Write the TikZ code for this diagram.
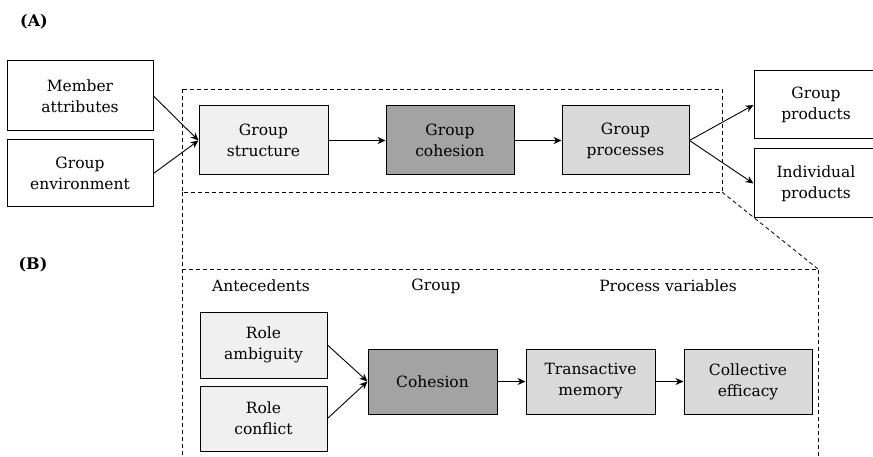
\documentclass[tikz,border=0pt]{standalone}
\usepackage{fontspec}
\setmainfont{DejaVu Serif}
\usetikzlibrary{arrows.meta}
\begin{document}
\begin{tikzpicture}[x=1pt,y=-1pt]
	\tikzset{>={Stealth[length=8pt,width=7pt]}}
	\tikzset{box/.style={draw,line width=1pt,align=center,inner sep=0pt,
		font=\fontsize{15.5}{21}\selectfont},
		white box/.style={box,fill=white},
		pale box/.style={box,fill=black!6},
		mid box/.style={box,fill=black!15},
		dark box/.style={box,fill=black!36},
		zoom line/.style={line width=0.8pt,dash pattern=on 4pt off 3pt},
		link/.style={->,line width=0.9pt}}

	\useasboundingbox (0,0) rectangle (873,457);

	% (A)
	\node[font=\bfseries\fontsize{16}{19}\selectfont] (labelA) at (34,22) {(A)};

	\draw[zoom line] (182,89) rectangle (722,192);

	\node[white box,minimum width=146pt,minimum height=70pt] (member) at (80,96) {Member\\attributes};
	\node[white box,minimum width=146pt,minimum height=67pt] (environment) at (80,173.5) {Group\\environment};

	\node[pale box,minimum width=129pt,minimum height=69pt] (structure) at (263.5,140.5) {Group\\structure};
	\node[dark box,minimum width=128pt,minimum height=69pt] (cohesion) at (450,140.5) {Group\\cohesion};
	\node[mid box,minimum width=127pt,minimum height=69pt] (processes) at (625.5,140.5) {Group\\processes};

	\node[white box,minimum width=124pt,minimum height=68pt] (groupprod) at (816,105) {Group\\products};
	\node[white box,minimum width=124pt,minimum height=69pt] (indprod) at (816,183.5) {Individual\\products};

	\draw[link] (member.east) -- (structure.west);
	\draw[link] (environment.east) -- (structure.west);
	\draw[link] (structure) -- (cohesion);
	\draw[link] (cohesion) -- (processes);
	\draw[link] (processes.east) -- (groupprod.west);
	\draw[link] (processes.east) -- (indprod.west);

	% (B)
	\node[font=\bfseries\fontsize{16}{19}\selectfont] (labelB) at (33,265) {(B)};

	\draw[zoom line] (182,192) -- (182,470);
	\draw[zoom line] (722,192) -- (818,269);
	\draw[zoom line] (182,269) -- (818,269) -- (818,470);

	\node[font=\fontsize{15.5}{21}\selectfont] (antecedents) at (261,286) {Antecedents};
	\node[font=\fontsize{15.5}{21}\selectfont] (group) at (436,286) {Group};
	\node[font=\fontsize{15.5}{21}\selectfont] (procvars) at (668,286) {Process variables};

	\node[pale box,minimum width=127pt,minimum height=66pt] (ambiguity) at (263.5,345) {Role\\ambiguity};
	\node[pale box,minimum width=127pt,minimum height=65pt] (conflict) at (263.5,418.5) {Role\\conflict};
	\node[dark box,minimum width=129pt,minimum height=65pt] (cohesionB) at (432.5,381.5) {Cohesion};
	\node[mid box,minimum width=129pt,minimum height=65pt] (transactive) at (590.5,381.5) {Transactive\\memory};
	\node[mid box,minimum width=128pt,minimum height=65pt] (efficacy) at (748,381.5) {Collective\\efficacy};

	\draw[link] (ambiguity.east) -- (cohesionB.west);
	\draw[link] (conflict.east) -- (cohesionB.west);
	\draw[link] (cohesionB) -- (transactive);
	\draw[link] (transactive) -- (efficacy);

\end{tikzpicture}
\end{document}
